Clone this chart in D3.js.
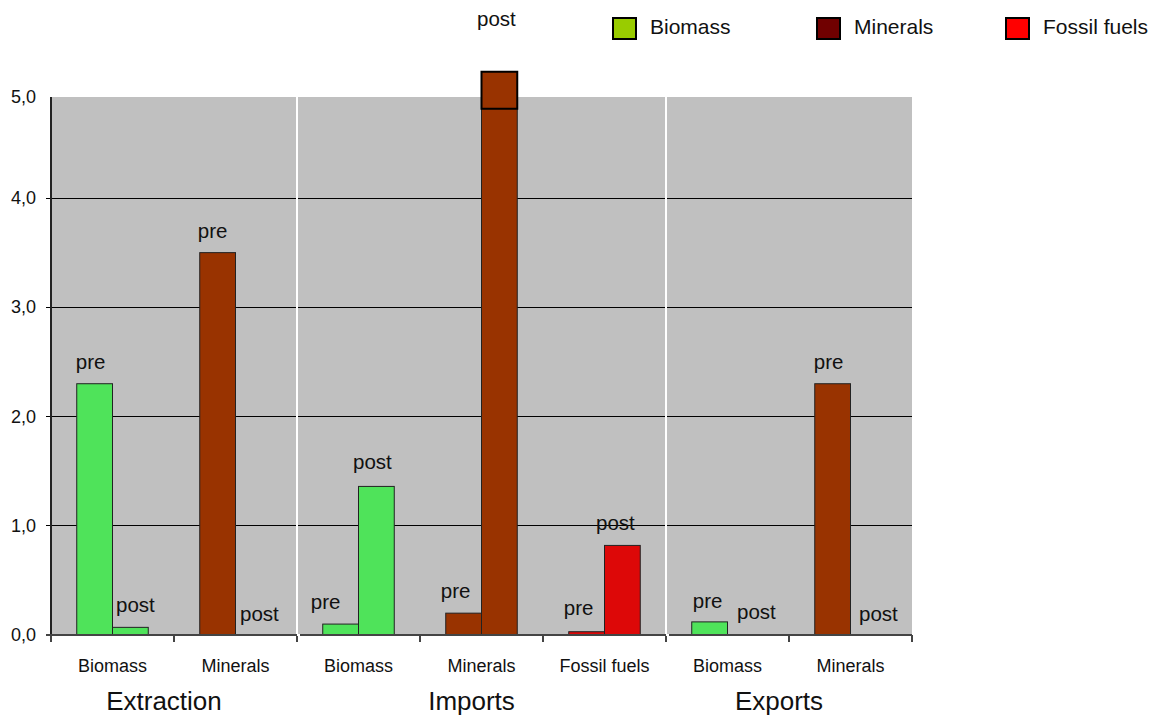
<!DOCTYPE html>
<html>
<head>
<meta charset="utf-8">
<script src="https://cdn.jsdelivr.net/npm/d3@7"></script>
<style>
  body { margin: 0; background: #fff; }
  text { font-family: "Liberation Sans", Arial, sans-serif; fill: #111; }
  line { shape-rendering: crispEdges; }
</style>
</head>
<body>
<div id="container"></div>
<script>
// data
var categories = ["Biomass", "Minerals", "Biomass", "Minerals", "Fossil fuels", "Biomass", "Minerals"];
var materials  = ["biomass", "minerals", "biomass", "minerals", "fossil", "biomass", "minerals"];
var groups     = ["Extraction", "Imports", "Exports"];
var groupSize  = [2, 3, 2];
var series     = ["pre", "post"];
var preValues  = [2.3, 3.5, 0.10, 0.20, 0.03, 0.12, 2.3];
var postValues = [0.07, 0, 1.36, 5.25, 0.82, 0, 0];
var yTicks     = [0, 1, 2, 3, 4, 5];
var legendNames = ["Biomass", "Minerals", "Fossil fuels"];
var legendKeys  = ["biomass", "minerals", "fossil"];

// hand nudges for the pre/post labels (px), pre then post per category
var labelDx = [[-4, 5], [-5, 6], [-15, -4], [-8, -3], [-8, -7], [-2, 11], [-4, 10]];
var labelDy = [[0, 0], [0, 1], [0, -2], [0, -31], [-2, 0], [1, -1], [0, 1]];

var barColor = { biomass: "#4fe35a", minerals: "#993300", fossil: "#dd0808" };
var keyColor = { biomass: "#99cc00", minerals: "#700000", fossil: "#ff0000" };

var width = 1151, height = 715;
var plotLeft = 51, plotRight = 912, plotTop = 97, plotBottom = 635;

var svg = d3.select("#container")
  .append("svg")
  .attr("width", width)
  .attr("height", height);

var x = d3.scaleBand()
  .domain(d3.range(categories.length))
  .range([plotLeft, plotRight])
  .padding(0);

var inner = d3.scaleBand()
  .domain(series)
  .range([0, x.bandwidth()])
  .paddingInner(0)
  .paddingOuter(0.72);

// top segment of the axis is a bit shorter in the original
var y = d3.scaleLinear()
  .domain([0, 4, 5])
  .range([plotBottom, 198, plotTop]);

// plot background
svg.append("rect")
  .attr("x", plotLeft).attr("y", plotTop)
  .attr("width", plotRight - plotLeft).attr("height", plotBottom - plotTop)
  .attr("fill", "#c0c0c0");

// gridlines + y ticks
svg.selectAll("line.grid")
  .data(yTicks.filter(function(d) { return d > 0 && d < 5; }))
  .enter()
  .append("line")
  .attr("x1", plotLeft - 5).attr("x2", plotRight)
  .attr("y1", function(d) { return y(d); })
  .attr("y2", function(d) { return y(d); })
  .attr("stroke", "#000")
  .attr("stroke-width", 1);

svg.selectAll("text.ytick")
  .data(yTicks)
  .enter()
  .append("text")
  .attr("x", 36)
  .attr("y", function(d) { return y(d) + 6; })
  .attr("text-anchor", "end")
  .style("font-size", "18px")
  .text(function(d) { return d3.format(".1f")(d).replace(".", ","); });

// rows of bars
var rows = [];
categories.forEach(function(c, i) {
  rows.push({ i: i, s: "pre", v: preValues[i], m: materials[i], dx: labelDx[i][0], dy: labelDy[i][0] });
  rows.push({ i: i, s: "post", v: postValues[i], m: materials[i], dx: labelDx[i][1], dy: labelDy[i][1] });
});

function barX(d) { return x(d.i) + inner(d.s); }

svg.selectAll("rect.bar")
  .data(rows.filter(function(d) { return d.v > 0; }))
  .enter()
  .append("rect")
  .attr("x", barX)
  .attr("y", function(d) { return y(d.v); })
  .attr("width", inner.bandwidth())
  .attr("height", function(d) { return y(0) - y(d.v); })
  .attr("fill", function(d) { return barColor[d.m]; })
  .attr("stroke", "#222")
  .attr("stroke-width", 1);

// break box on the bar that runs off the top
svg.selectAll("rect.brk")
  .data(rows.filter(function(d) { return d.v > 5; }))
  .enter()
  .append("rect")
  .attr("x", barX)
  .attr("y", function(d) { return y(d.v); })
  .attr("width", inner.bandwidth())
  .attr("height", 37)
  .attr("fill", function(d) { return barColor[d.m]; })
  .attr("stroke", "#000")
  .attr("stroke-width", 2);

// pre / post labels
svg.selectAll("text.lab")
  .data(rows)
  .enter()
  .append("text")
  .attr("x", function(d) { return barX(d) + inner.bandwidth() / 2 + d.dx; })
  .attr("y", function(d) { return y(d.v) - 15 + d.dy; })
  .attr("text-anchor", "middle")
  .style("font-size", "20.5px")
  .text(function(d) { return d.s; });

// white separators between groups
var bounds = [];
var acc = 0;
groupSize.forEach(function(n) { bounds.push([acc, acc + n]); acc += n; });

svg.selectAll("line.sep")
  .data(bounds.slice(1))
  .enter()
  .append("line")
  .attr("x1", function(d) { return x(d[0]); })
  .attr("x2", function(d) { return x(d[0]); })
  .attr("y1", plotTop).attr("y2", plotBottom + 1)
  .attr("stroke", "#fff")
  .attr("stroke-width", 2.5);

// axes
svg.append("line")
  .attr("x1", plotLeft).attr("x2", plotLeft)
  .attr("y1", plotTop).attr("y2", plotBottom)
  .attr("stroke", "#222").attr("stroke-width", 1.5);

svg.append("line")
  .attr("x1", plotLeft - 5).attr("x2", plotRight)
  .attr("y1", plotBottom).attr("y2", plotBottom)
  .attr("stroke", "#444").attr("stroke-width", 2);

svg.selectAll("line.xtick")
  .data(d3.range(categories.length + 1))
  .enter()
  .append("line")
  .attr("x1", function(d) { return plotLeft + d * x.bandwidth(); })
  .attr("x2", function(d) { return plotLeft + d * x.bandwidth(); })
  .attr("y1", plotBottom).attr("y2", plotBottom + 7)
  .attr("stroke", "#444").attr("stroke-width", 1.5);

// redraw separators over the x axis line
svg.selectAll("line.sep2")
  .data(bounds.slice(1))
  .enter()
  .append("line")
  .attr("x1", function(d) { return x(d[0]) + 1.5; })
  .attr("x2", function(d) { return x(d[0]) + 1.5; })
  .attr("y1", plotBottom - 1).attr("y2", plotBottom + 1)
  .attr("stroke", "#fff")
  .attr("stroke-width", 2.5);

// category labels
svg.selectAll("text.cat")
  .data(categories)
  .enter()
  .append("text")
  .attr("x", function(d, i) { return x(i) + x.bandwidth() / 2; })
  .attr("y", 671.5)
  .attr("text-anchor", "middle")
  .style("font-size", "18px")
  .text(function(d) { return d; });

// group labels
svg.selectAll("text.grp")
  .data(groups)
  .enter()
  .append("text")
  .attr("x", function(d, i) { return (x(bounds[i][0]) + x(bounds[i][1] - 1) + x.bandwidth()) / 2 - 10; })
  .attr("y", 710)
  .attr("text-anchor", "middle")
  .style("font-size", "26px")
  .text(function(d) { return d; });

// legend
var legendX = [613, 817, 1006];
var lg = svg.selectAll("g.leg")
  .data(legendNames)
  .enter()
  .append("g")
  .attr("transform", function(d, i) { return "translate(" + legendX[i] + ",18)"; });

lg.append("rect")
  .attr("width", 23).attr("height", 21)
  .attr("fill", function(d, i) { return keyColor[legendKeys[i]]; })
  .attr("stroke", "#000")
  .attr("stroke-width", 2);

lg.append("text")
  .attr("x", 37)
  .attr("y", 15.5)
  .style("font-size", "21px")
  .text(function(d) { return d; });
</script>
</body>
</html>
